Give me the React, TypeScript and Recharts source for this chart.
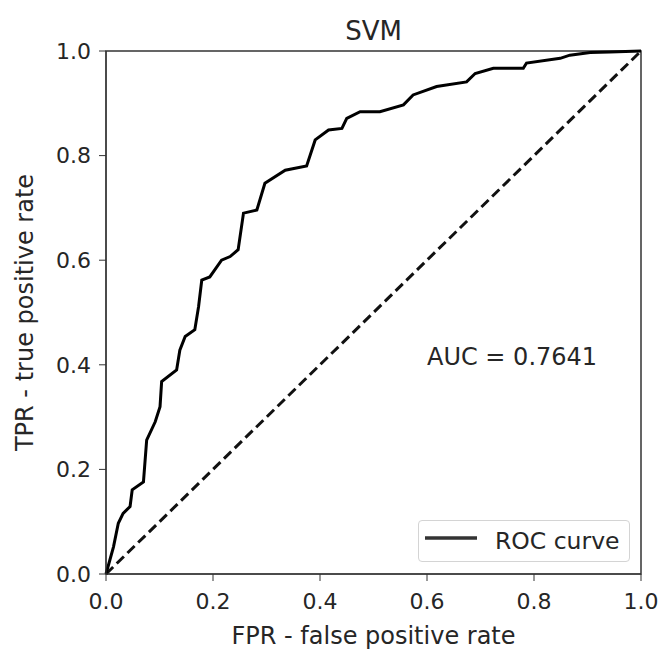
import { LineChart, Line, XAxis, YAxis, Legend, ReferenceArea, ReferenceDot } from "recharts";

// ROC curve vertices
const fprValues = [
  0, 0.014, 0.023, 0.032, 0.045, 0.049, 0.07, 0.076, 0.092, 0.101, 0.104, 0.132, 0.138, 0.148, 0.166,
  0.173, 0.179, 0.194, 0.216, 0.232, 0.247, 0.257, 0.282, 0.297, 0.335, 0.375, 0.391, 0.416, 0.441,
  0.45, 0.475, 0.512, 0.556, 0.574, 0.618, 0.674, 0.69, 0.724, 0.78, 0.786, 0.849, 0.867, 0.905, 0.942, 1,
];
const tprValues = [
  0, 0.052, 0.097, 0.116, 0.129, 0.161, 0.176, 0.256, 0.291, 0.32, 0.368, 0.39, 0.428, 0.454, 0.467,
  0.511, 0.562, 0.568, 0.6, 0.607, 0.62, 0.69, 0.696, 0.747, 0.772, 0.78, 0.83, 0.849, 0.852,
  0.871, 0.884, 0.884, 0.897, 0.916, 0.932, 0.941, 0.957, 0.967, 0.967, 0.977, 0.986, 0.992, 0.997, 0.998, 1,
];
const chanceFpr = [0, 1];
const chanceTpr = [0, 1];
const axisTicks = [0, 0.2, 0.4, 0.6, 0.8, 1.0];

const chartTitle = "SVM";
const seriesName = "ROC curve";
const aucLabel = "AUC = 0.7641";
const aucAt = { fpr: 0.6, tpr: 0.4 };

const rocData = fprValues.map((fpr, i) => ({ fpr, tpr: tprValues[i] }));
const chanceData = chanceFpr.map((fpr, i) => ({ fpr, tpr: chanceTpr[i] }));

const font = "DejaVu Sans";
const ink = "#262626";
const spine = "#333";

function RocLegend() {
  return (
    <div
      style={{
        boxSizing: "border-box",
        width: 212,
        height: 42,
        border: "1px solid #d4d4d4",
        borderRadius: 4,
        background: "rgba(255,255,255,0.8)",
        display: "flex",
        alignItems: "center",
        fontFamily: font,
        fontSize: 23.5,
        color: ink,
      }}
    >
      <svg width={52} height={10} style={{ marginLeft: 6, marginTop: -6 }}>
        <line x1={0} x2={52} y1={5} y2={5} stroke="#333" strokeWidth={3.5} />
      </svg>
      <span style={{ marginLeft: 18 }}>{seriesName}</span>
    </div>
  );
}

export default function App() {
  return (
    <div style={{ position: "absolute", left: 0, top: 0, width: 660, height: 650, background: "#fff" }}>
      <LineChart width={660} height={650} margin={{ top: 51, right: 19, bottom: 0, left: 0 }}>
        <XAxis
          dataKey="fpr"
          type="number"
          domain={[0, 1]}
          ticks={axisTicks}
          tickFormatter={(v: number) => v.toFixed(1)}
          height={76}
          tickSize={7}
          tickMargin={12}
          stroke={spine}
          tick={{ fill: ink, fontSize: 22, fontFamily: font }}
          label={{ value: "FPR - false positive rate", position: "insideBottom", offset: 6, fill: ink, fontSize: 24, fontFamily: font }}
        />
        <YAxis
          type="number"
          domain={[0, 1]}
          ticks={axisTicks}
          tickFormatter={(v: number) => v.toFixed(1)}
          width={106}
          tickSize={7}
          tickMargin={8}
          stroke={spine}
          tick={{ fill: ink, fontSize: 22, fontFamily: font }}
          label={{
            value: "TPR - true positive rate",
            angle: -90,
            position: "insideLeft",
            offset: 24,
            fill: ink,
            fontSize: 24,
            fontFamily: font,
            style: { textAnchor: "middle" },
          }}
        />
        <ReferenceArea
          x1={0}
          x2={1}
          y1={0}
          y2={1}
          fill="none"
          stroke={spine}
          strokeWidth={1.5}
          label={{ value: chartTitle, position: "top", offset: 11, fill: ink, fontSize: 26, fontFamily: font }}
        />
        <Line
          data={chanceData}
          dataKey="tpr"
          type="linear"
          stroke="#111"
          strokeWidth={3}
          strokeDasharray="10 5"
          dot={false}
          legendType="none"
          isAnimationActive={false}
        />
        <Line
          data={rocData}
          dataKey="tpr"
          name={seriesName}
          type="linear"
          stroke="#000"
          strokeWidth={3}
          dot={false}
          isAnimationActive={false}
        />
        <ReferenceDot
          x={aucAt.fpr}
          y={aucAt.tpr}
          r={0}
          shape={(p: any) => (
            <text x={p.cx} y={p.cy} fill={ink} fontSize={24} fontFamily={font}>
              {aucLabel}
            </text>
          )}
        />
        <Legend
          layout="vertical"
          align="center"
          verticalAlign="middle"
          content={() => <RocLegend />}
          wrapperStyle={{ position: "absolute", left: 418, top: 520, width: 212, height: 42 }}
        />
      </LineChart>
    </div>
  );
}
